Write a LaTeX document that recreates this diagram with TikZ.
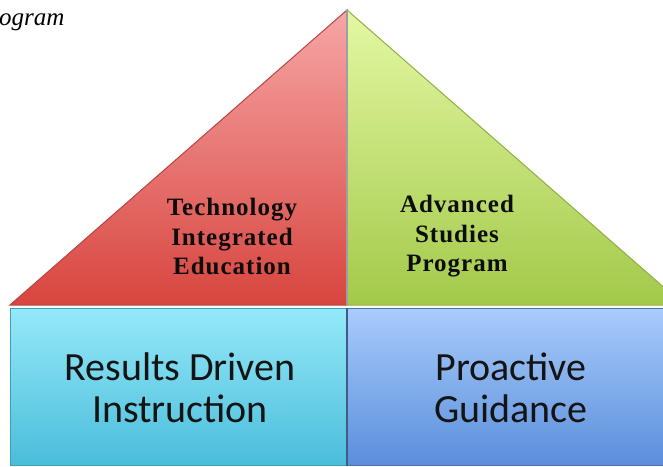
\documentclass[tikz,border=0pt]{standalone}
\usepackage{fontspec}
\setmainfont{Liberation Serif}
\newfontfamily\calib{Carlito}
\newfontfamily\trifont[LetterSpace=4]{Liberation Serif}
\definecolor{redtop}{HTML}{F6A6A6}
\definecolor{redmid}{HTML}{EE7070}
\definecolor{redbot}{HTML}{D8453F}
\definecolor{redline}{HTML}{B84440}
\definecolor{greentop}{HTML}{E4F8A4}
\definecolor{greenmid}{HTML}{C6E57C}
\definecolor{greenbot}{HTML}{A3C94A}
\definecolor{greenline}{HTML}{8EAF45}
\definecolor{cyantop}{HTML}{95E9F9}
\definecolor{cyanbot}{HTML}{4ABDDA}
\definecolor{cyanline}{HTML}{3F9FBA}
\definecolor{bluetop}{HTML}{A9CCFB}
\definecolor{bluebot}{HTML}{5A8EDB}
\definecolor{blueline}{HTML}{4A74A8}
\begin{document}
\begin{tikzpicture}[x=1pt,y=1pt,
  tritext/.style={font=\trifont\fontsize{25}{29.5}\selectfont\bfseries, align=center, text=black!95, inner sep=0pt},
  boxtext/.style={font=\calib\fontsize{40}{42}\selectfont, align=center, text=black!92, inner sep=0pt},
  edge/.style={line width=1pt, line join=miter}
]
\useasboundingbox (0,0) rectangle (663,466);
\clip (0,0) rectangle (663,466);
% corner coordinates
\coordinate (apex) at (347,456);
\coordinate (bl) at (10,161);
\coordinate (bm) at (347,161);
\coordinate (br) at (684,161);
\coordinate (rl) at (10,158);
\coordinate (rm) at (347,158);
\coordinate (rr) at (684,158);
\coordinate (ql) at (10,0.5);
\coordinate (qm) at (347,0.5);
\coordinate (qr) at (684,0.5);
% triangles
\shade[top color=redtop, middle color=redmid, bottom color=redbot] (bl) -- (apex) -- (bm) -- cycle;
\draw[edge, redline] (bl) -- (apex) -- (bm) -- cycle;
\shade[top color=greentop, middle color=greenmid, bottom color=greenbot] (apex) -- (br) -- (bm) -- cycle;
\draw[edge, greenline] (apex) -- (br) -- (bm) -- cycle;
\draw[line width=2pt, gray!75] (apex) -- (bm);
% rectangles
\shade[top color=cyantop, bottom color=cyanbot] (ql) rectangle (rm);
\draw[edge, cyanline] (ql) rectangle (rm);
\shade[top color=bluetop, bottom color=bluebot] (qm) rectangle (rr);
\draw[edge, blueline] (qm) rectangle (rr);
\draw[line width=1.5pt, blueline!80!black] (qm) -- (rm);
% texts
\node[tritext] (tie) at (232,229.5) {Technology\\Integrated\\Education};
\node[tritext] (asp) at (457,229.5) {Advanced\\Studies\\Program};
\node[boxtext] (rdi) at (180,78) {Results Driven\\Instruction};
\node[boxtext] (pg) at (511,78) {Proactive\\Guidance};
\node[font=\fontsize{25}{28}\selectfont\itshape, anchor=base west, inner sep=0pt] (prog) at (-1,440) {ogram};
\end{tikzpicture}
\end{document}
